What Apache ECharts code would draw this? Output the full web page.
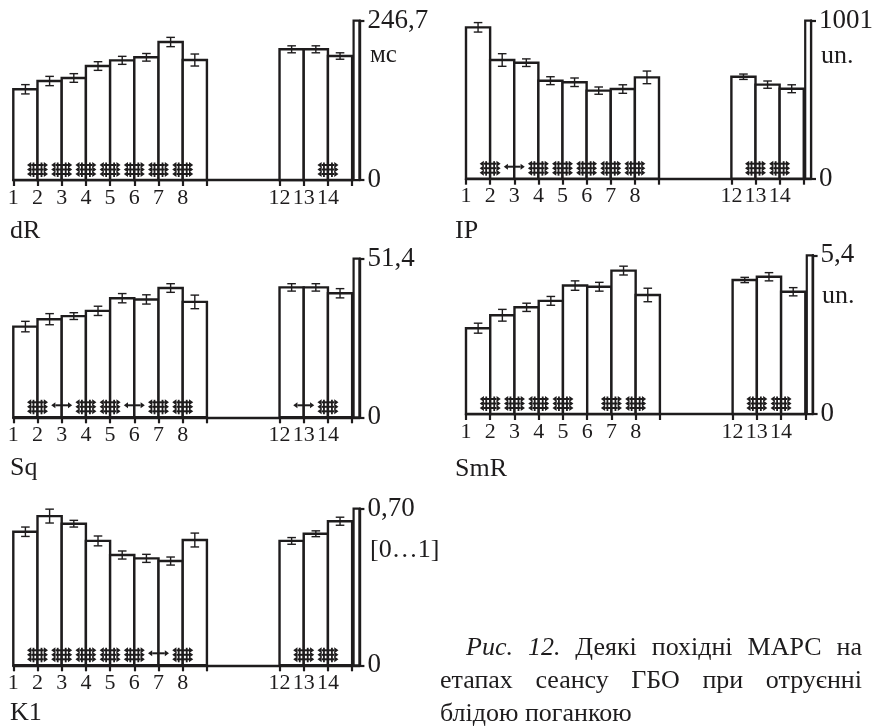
<!DOCTYPE html>
<html><head><meta charset="utf-8">
<script src="https://cdn.jsdelivr.net/npm/echarts@6/dist/echarts.min.js"></script>
<style>html,body{margin:0;padding:0;background:#fff}#c{width:876px;height:728px}</style>
</head><body><div id="c"></div>
<script>
// ---------- DATA ----------
const positions = [1, 2, 3, 4, 5, 6, 7, 8, 12, 13, 14];
const xTickLabels = [1, 2, 3, 4, 5, 6, 7, 8, 12, 13, 14];
const xTickMarks = [1, 2, 3, 4, 5, 6, 7, 8, 9, 12, 13, 14, 15];

const dRValues = [140.5, 153.3, 158.0, 176.5, 185.3, 190.0, 213.7, 185.8, 202.4, 202.4, 192.0];
const dRErrors = [7.2, 7.2, 6.7, 6.7, 6.2, 5.9, 7.2, 9.3, 5.4, 5.4, 5.0];
const dRMarks = [[2,'#'],[3,'#'],[4,'#'],[5,'#'],[6,'#'],[7,'#'],[8,'#'],[14,'#']];
const dRMax = 246.7, dRMaxLabel = '246,7', dRUnit = 'мс', dRName = 'dR';

const IPValues = [959, 752, 735, 621, 611, 558, 568, 642, 646, 596, 570];
const IPErrors = [30, 40, 24, 25, 27, 23, 27, 40, 17, 23, 25];
const IPMarks = [[2,'#'],[3,'<>'],[4,'#'],[5,'#'],[6,'#'],[7,'#'],[8,'#'],[13,'#'],[14,'#']];
const IPMax = 1001, IPMaxLabel = '1001', IPUnit = 'un.', IPName = 'IP';

const SqValues = [29.4, 31.8, 32.8, 34.5, 38.6, 38.2, 41.9, 37.4, 42.1, 42.1, 40.2];
const SqErrors = [1.7, 1.8, 1.1, 1.5, 1.5, 1.5, 1.4, 2.2, 1.2, 1.2, 1.5];
const SqMarks = [[2,'#'],[3,'<>'],[4,'#'],[5,'#'],[6,'<>'],[7,'#'],[8,'#'],[13,'<>'],[14,'#']];
const SqMax = 51.4, SqMaxLabel = '51,4', SqUnit = '', SqName = 'Sq';

const SmRValues = [2.92, 3.36, 3.63, 3.85, 4.37, 4.33, 4.88, 4.05, 4.56, 4.67, 4.16];
const SmRErrors = [0.17, 0.20, 0.14, 0.15, 0.16, 0.15, 0.15, 0.23, 0.09, 0.14, 0.14];
const SmRMarks = [[2,'#'],[3,'#'],[4,'#'],[5,'#'],[7,'#'],[8,'#'],[13,'#'],[14,'#']];
const SmRMax = 5.4, SmRMaxLabel = '5,4', SmRUnit = 'un.', SmRName = 'SmR';

const K1Values = [0.597, 0.667, 0.633, 0.556, 0.493, 0.478, 0.466, 0.560, 0.556, 0.588, 0.644];
const K1Errors = [0.021, 0.031, 0.015, 0.022, 0.018, 0.018, 0.018, 0.031, 0.015, 0.013, 0.018];
const K1Marks = [[2,'#'],[3,'#'],[4,'#'],[5,'#'],[6,'#'],[7,'<>'],[8,'#'],[13,'#'],[14,'#']];
const K1Max = 0.70, K1MaxLabel = '0,70', K1Unit = '[0…1]', K1Name = 'K1';

const captionItalic = ['Рис.', '12.'];
const captionLine1 = ['Деякі', 'похідні', 'МАРС', 'на'];
const captionLine2 = ['етапах', 'сеансу', 'ГБО', 'при', 'отруєнні'];
const captionLine3 = 'блідою поганкою';

// ---------- LAYOUT ----------
const panels = [
  {v:dRValues, e:dRErrors, m:dRMarks, max:dRMax, ml:dRMaxLabel, unit:dRUnit, name:dRName,
   g:{left:13.3, top:20.7, width:346.1, height:159.3}, nameXY:[10, 231], unitXY:[370, 55]},
  {v:IPValues, e:IPErrors, m:IPMarks, max:IPMax, ml:IPMaxLabel, unit:IPUnit, name:IPName,
   g:{left:466, top:20.7, width:346.6, height:158}, nameXY:[455, 231], unitXY:[821, 56]},
  {v:SqValues, e:SqErrors, m:SqMarks, max:SqMax, ml:SqMaxLabel, unit:SqUnit, name:SqName,
   g:{left:13.3, top:258.7, width:346.1, height:158.6}, nameXY:[10, 468], unitXY:[370, 300]},
  {v:SmRValues, e:SmRErrors, m:SmRMarks, max:SmRMax, ml:SmRMaxLabel, unit:SmRUnit, name:SmRName,
   g:{left:466, top:255.3, width:346.6, height:158.7}, nameXY:[455, 469], unitXY:[822, 296]},
  {v:K1Values, e:K1Errors, m:K1Marks, max:K1Max, ml:K1MaxLabel, unit:K1Unit, name:K1Name,
   g:{left:13.3, top:508.7, width:346.1, height:156.6}, nameXY:[10, 713], unitXY:[370, 550]}
];

const INK = '#1e1c1d';
const FONT = '"Liberation Serif", "Times New Roman", serif';
const X_MAX = 15.3, SCALE_START = 15.06;

function barItem(params, api) {
  const x0 = api.value(0), v = api.value(1);
  const a = api.coord([x0, 0]), b = api.coord([x0 + 1, v]);
  return {type:'rect', shape:{x:a[0], y:b[1], width:b[0]-a[0], height:a[1]-b[1]},
    style:{fill:'#fff', stroke:INK, lineWidth:2.4}};
}
function errItem(params, api) {
  const c = api.value(0), v = api.value(1), e = api.value(2);
  const lo = api.coord([c, v - e]), hi = api.coord([c, v + e]);
  const x = lo[0], w = 4.3;
  const st = {stroke:INK, lineWidth:1.4};
  return {type:'group', children:[
    {type:'line', shape:{x1:x, y1:lo[1], x2:x, y2:hi[1]}, style:st},
    {type:'line', shape:{x1:x-w, y1:lo[1], x2:x+w, y2:lo[1]}, style:st},
    {type:'line', shape:{x1:x-w, y1:hi[1], x2:x+w, y2:hi[1]}, style:st}
  ]};
}
function arrow(cx, y) {
  const hw = 10.5, ah = 4.2, aw = 3.0;
  return [
    {type:'line', shape:{x1:cx-hw+ah, y1:y, x2:cx+hw-ah, y2:y}, style:{stroke:INK, lineWidth:2}},
    {type:'polygon', shape:{points:[[cx-hw, y],[cx-hw+ah, y-aw],[cx-hw+ah, y+aw]]}, style:{fill:INK}},
    {type:'polygon', shape:{points:[[cx+hw, y],[cx+hw-ah, y-aw],[cx+hw-ah, y+aw]]}, style:{fill:INK}}
  ];
}
function markItem(params, api) {
  const p = api.coord([api.value(0), 0]);
  const cx = p[0], by = p[1];
  let ch = [];
  if (api.value(1) === 1) {
    ch = ch.concat(arrow(cx, by-15), arrow(cx, by-10.5), arrow(cx, by-6));
    ch.push({type:'line', shape:{x1:cx-4, y1:by-17.5, x2:cx-4, y2:by-3}, style:{stroke:INK, lineWidth:1.8}});
    ch.push({type:'line', shape:{x1:cx+4, y1:by-17.5, x2:cx+4, y2:by-3}, style:{stroke:INK, lineWidth:1.8}});
  } else {
    ch = ch.concat(arrow(cx, by-12));
  }
  return {type:'group', children:ch};
}
function scaleItem(params, api) {
  const a = api.coord([api.value(0), 0]), b = api.coord([X_MAX, api.value(1)]);
  return {type:'rect', shape:{x:a[0], y:b[1], width:b[0]-a[0], height:a[1]-b[1]},
    style:{fill:'#fff', stroke:INK, lineWidth:2.2}};
}

const grid = [], xAxis = [], yAxis = [], series = [], graphic = [];
panels.forEach((P, i) => {
  grid.push(Object.assign({containLabel:false}, P.g));
  xAxis.push({type:'value', gridIndex:i, min:1, max:X_MAX,
    axisLine:{show:true, onZero:false, lineStyle:{color:INK, width:2.4}},
    axisTick:{show:true, customValues:xTickMarks, length:6, lineStyle:{color:INK, width:2.2}},
    axisLabel:{show:true, customValues:xTickLabels, margin:7, fontSize:22, fontFamily:FONT, color:INK,
      formatter:(v) => String(v)},
    splitLine:{show:false}});
  yAxis.push({type:'value', gridIndex:i, position:'right', min:0, max:P.max, interval:P.max,
    axisLine:{show:true, lineStyle:{color:INK, width:2.4}},
    axisTick:{show:true, length:5, lineStyle:{color:INK, width:2.2}},
    axisLabel:{show:true, margin:8, fontSize:27, fontFamily:FONT, color:INK,
      formatter:(v) => (v === 0 ? '0' : P.ml)},
    splitLine:{show:false}});
  series.push({type:'custom', xAxisIndex:i, yAxisIndex:i, z:2, clip:false,
    data:positions.map((p, k) => [p, P.v[k]]), renderItem:barItem});
  series.push({type:'custom', xAxisIndex:i, yAxisIndex:i, z:2, clip:false,
    data:[[SCALE_START, P.max]], renderItem:scaleItem});
  series.push({type:'custom', xAxisIndex:i, yAxisIndex:i, z:4, clip:false,
    data:P.m.map(m => [m[0], m[1] === '#' ? 1 : 0]), renderItem:markItem});
  series.push({type:'custom', xAxisIndex:i, yAxisIndex:i, z:5, clip:false,
    data:positions.map((p, k) => [p + 0.5, P.v[k], P.e[k]]), renderItem:errItem});
  graphic.push({type:'text', x:P.nameXY[0], y:P.nameXY[1],
    style:{text:P.name, fontSize:26, fontFamily:FONT, fill:INK, verticalAlign:'middle', align:'left'}});
  if (P.unit) graphic.push({type:'text', x:P.unitXY[0], y:P.unitXY[1],
    style:{text:P.unit, fontSize:P.unit === 'мс' ? 25 : 26, fontFamily:FONT, fill:INK, verticalAlign:'middle', align:'left'}});
});

// caption (justified)
const ctx = document.createElement('canvas').getContext('2d');
function w(t, italic) { ctx.font = (italic ? 'italic ' : '') + '26px "Liberation Serif"'; return ctx.measureText(t).width; }
function justify(words, x0, x1, y) {
  const ws = words.map(o => w(o.t, o.i));
  const total = ws.reduce((a, b) => a + b, 0);
  const gap = (x1 - x0 - total) / (words.length - 1);
  let x = x0;
  words.forEach((o, k) => {
    graphic.push({type:'text', x:x, y:y, style:{text:o.t, fontSize:26, fontFamily:FONT,
      fontStyle:o.i ? 'italic' : 'normal', fill:INK, verticalAlign:'middle', align:'left'}});
    x += ws[k] + gap;
  });
}
justify(captionItalic.map(t => ({t, i:true})).concat(captionLine1.map(t => ({t, i:false}))), 466, 862, 648);
justify(captionLine2.map(t => ({t, i:false})), 440, 862, 681);
graphic.push({type:'text', x:440, y:714, style:{text:captionLine3, fontSize:26, fontFamily:FONT,
  fill:INK, verticalAlign:'middle', align:'left'}});

const chart = echarts.init(document.getElementById('c'), null, {renderer:'canvas'});
chart.setOption({backgroundColor:'#fff', animation:false, grid, xAxis, yAxis, series, graphic});
</script>
</body></html>
